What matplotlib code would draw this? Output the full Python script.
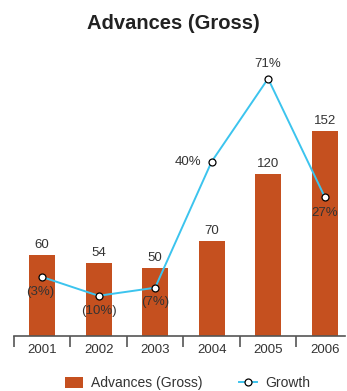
import matplotlib.pyplot as plt
import numpy as np
from matplotlib.lines import Line2D
from matplotlib.patches import Patch

plt.rcParams["font.family"] = ["Liberation Sans", "DejaVu Sans"]

# advances and growth per year
years = ["2001", "2002", "2003", "2004", "2005", "2006"]
advances = [60, 54, 50, 70, 120, 152]
growth = [-3, -10, -7, 40, 71, 27]
growth_labels = ["(3%)", "(10%)", "(7%)", "40%", "71%", "27%"]

bar_color = "#C5501F"
line_color = "#3CC4EE"
text_color = "#333333"

fig = plt.figure(figsize=(3.47, 3.91), dpi=100)
ax = fig.add_axes([0.040, 0.1407, 0.954, 0.757])
x_pos = np.arange(len(years))

# bars for advances
ax.bar(x_pos, advances, width=0.46, color=bar_color, zorder=1)
for x, v in zip(x_pos, advances):
    ax.annotate(str(v), (x, v), xytext=(0, 4), textcoords="offset pixels",
                ha="center", va="bottom", fontsize=9.5, color=text_color)

ax.set_xlim(-0.5, 5.36)
ax.set_ylim(0, 219)
for s in ["top", "right", "left"]:
    ax.spines[s].set_visible(False)
ax.spines["bottom"].set_color("#555555")
ax.spines["bottom"].set_linewidth(1.2)
ax.set_yticks([])

# category labels between boundary ticks
ax.set_xticks(x_pos)
ax.set_xticklabels(years, fontsize=9.5, color=text_color)
ax.tick_params(axis="x", which="major", length=0, pad=6)
ax.set_xticks(np.arange(-0.5, 5.5, 1), minor=True)
ax.tick_params(axis="x", which="minor", length=8, width=1.2,
               color="#555555", direction="out")

# growth line on second axis
ax2 = ax.twinx()
ax2.plot(x_pos, growth, color=line_color, linewidth=1.4, marker="o",
         markersize=5, markerfacecolor="white", markeredgecolor="black",
         markeredgewidth=0.9, zorder=3)
ax2.set_ylim(-25, 85.4)
ax2.axis("off")

offsets = [(-2, -15), (0, -15), (0, -14), (-10, 0), (0, 15), (0, -16)]
for x, g, lab, off in zip(x_pos, growth, growth_labels, offsets):
    ax2.annotate(lab, (x, g), xytext=off, textcoords="offset pixels",
                 ha="right" if off[0] < -5 else "center", va="center",
                 fontsize=9.5, color=text_color)

fig.suptitle("Advances (Gross)", x=0.5, y=0.965, fontsize=14.5,
             fontweight="bold", color="#222222")

# legend at the bottom
handles = [Patch(facecolor=bar_color, edgecolor="none"),
           Line2D([0], [0], color=line_color, linewidth=1.4, marker="o",
                  markersize=5, markerfacecolor="white",
                  markeredgecolor="black", markeredgewidth=0.9)]
fig.legend(handles, ["Advances (Gross)", "Growth"], loc="lower center",
           bbox_to_anchor=(0.54, -0.03), ncol=2, frameon=False, fontsize=10,
           handlelength=1.3, handleheight=0.9, handletextpad=0.6,
           columnspacing=2.6, labelcolor=text_color)

plt.savefig("out.png", dpi=100)
